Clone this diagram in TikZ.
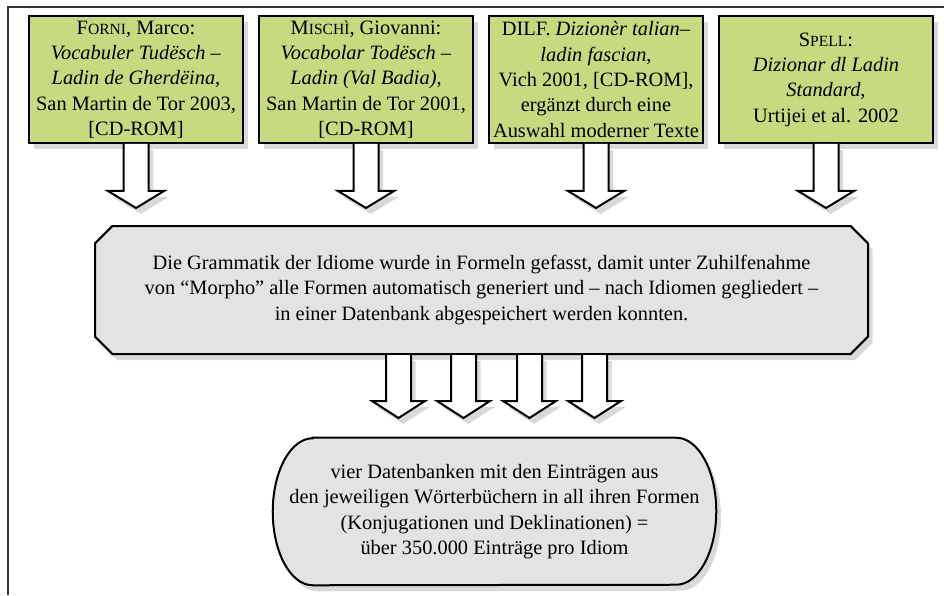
\documentclass[tikz,border=0pt]{standalone}
\usepackage{fontspec}
\setmainfont{Liberation Serif}
\usetikzlibrary{shapes.misc,shadows,calc,backgrounds}
\definecolor{bookgreen}{RGB}{200,218,128}
\definecolor{boxgray}{RGB}{226,227,229}
\newcommand\namesc[2]{#1{\fontsize{11.7}{12}\selectfont #2}}
\tikzset{
  softshadow/.style={drop shadow={shadow xshift=3.5pt, shadow yshift=-4.5pt, opacity=0.3}},
  source/.style={draw, line width=1.5pt, fill=bookgreen, minimum width=160.5pt,
    minimum height=95.25pt, align=center, inner sep=1pt, softshadow},
  process/.style={chamfered rectangle, chamfered rectangle xsep=10pt, draw,
    line width=1.5pt, fill=boxgray, minimum width=579.75pt, minimum height=96pt,
    align=center, softshadow},
  result/.style={rectangle, minimum width=332.25pt, minimum height=110.25pt, align=center},
  resultshape/.style={draw, line width=1.5pt, fill=boxgray, softshadow},
  blockarrow/.style={draw, line width=1.5pt, fill=white, line join=miter, softshadow}
}
\begin{document}
\begin{tikzpicture}[x=0.75pt, y=-0.75pt, font=\fontsize{15.3}{19}\selectfont]
  \useasboundingbox (0,0) rectangle (944,595);
  \draw[line width=1pt, black!80] (8,595) -- (8,7) -- (944,7);

  % sources
  \node[source] (forni) at (136,79.5)
    {\namesc{F}{ORNI}, Marco:\\ \textit{Vocabuler Tudësch –}\\ \textit{Ladin de Gherdëina},\\
     San Martin de Tor 2003,\\ {[CD-ROM]}};
  \node[source] (mischi) at (366,79.5)
    {\namesc{M}{ISCHÌ}, Giovanni:\\ \textit{Vocabolar Todësch –}\\ \textit{Ladin (Val Badia)},\\
     San Martin de Tor 2001,\\ {[CD-ROM]}};
  \node[source] (dilf) at (596,79.5)
    {DILF. \textit{Dizionèr talian–}\\ \textit{ladin fascian},\\ Vich 2001, [CD-ROM],\\
     ergänzt durch eine\\ Auswahl moderner Texte};
  \node[source] (spell) at (826,79.5)
    {\namesc{S}{PELL}:\\ \textit{Dizionar dl Ladin}\\ \textit{Standard},\\ Urtijei et al. 2002};

  % grammar
  \node[process] (morpho) at (481.5,290)
    {Die Grammatik der Idiome wurde in Formeln gefasst, damit unter Zuhilfenahme\\
     von “Morpho” alle Formen automatisch generiert und – nach Idiomen gegliedert –\\
     in einer Datenbank abgespeichert werden konnten.};

  % databases
  \node[result] (dbs) at (494.5,511.5)
    {vier Datenbanken mit den Einträgen aus\\ den jeweiligen Wörterbüchern in all ihren Formen\\
     (Konjugationen und Deklinationen) =\\ über 350.000 Einträge pro Idiom};
  \begin{scope}[on background layer]
    \path[resultshape] ($(dbs.north west)+(40,0)$) -- ($(dbs.north east)+(-40,0)$)
      arc[start angle=90, end angle=-90, x radius=30pt, y radius=55.125pt]
      -- ($(dbs.south west)+(40,0)$)
      arc[start angle=270, end angle=90, x radius=30pt, y radius=55.125pt] -- cycle;
  \end{scope}

  \foreach \n in {forni,mischi,dilf,spell}
    \draw[blockarrow] ($(\n.south)+(-12.5,0)$) -- ++(0,47) -- ++(-15.5,0) -- ++(28,17)
      -- ++(28,-17) -- ++(-15.5,0) -- ++(0,-47);
  \foreach \dx in {-83,-18,48,113}
    \draw[blockarrow] ($(morpho.south)+(\dx,0)+(-12.5,0)$) -- ++(0,46) -- ++(-14,0)
      -- ++(26.5,17) -- ++(26.5,-17) -- ++(-14,0) -- ++(0,-46);
\end{tikzpicture}
\end{document}
